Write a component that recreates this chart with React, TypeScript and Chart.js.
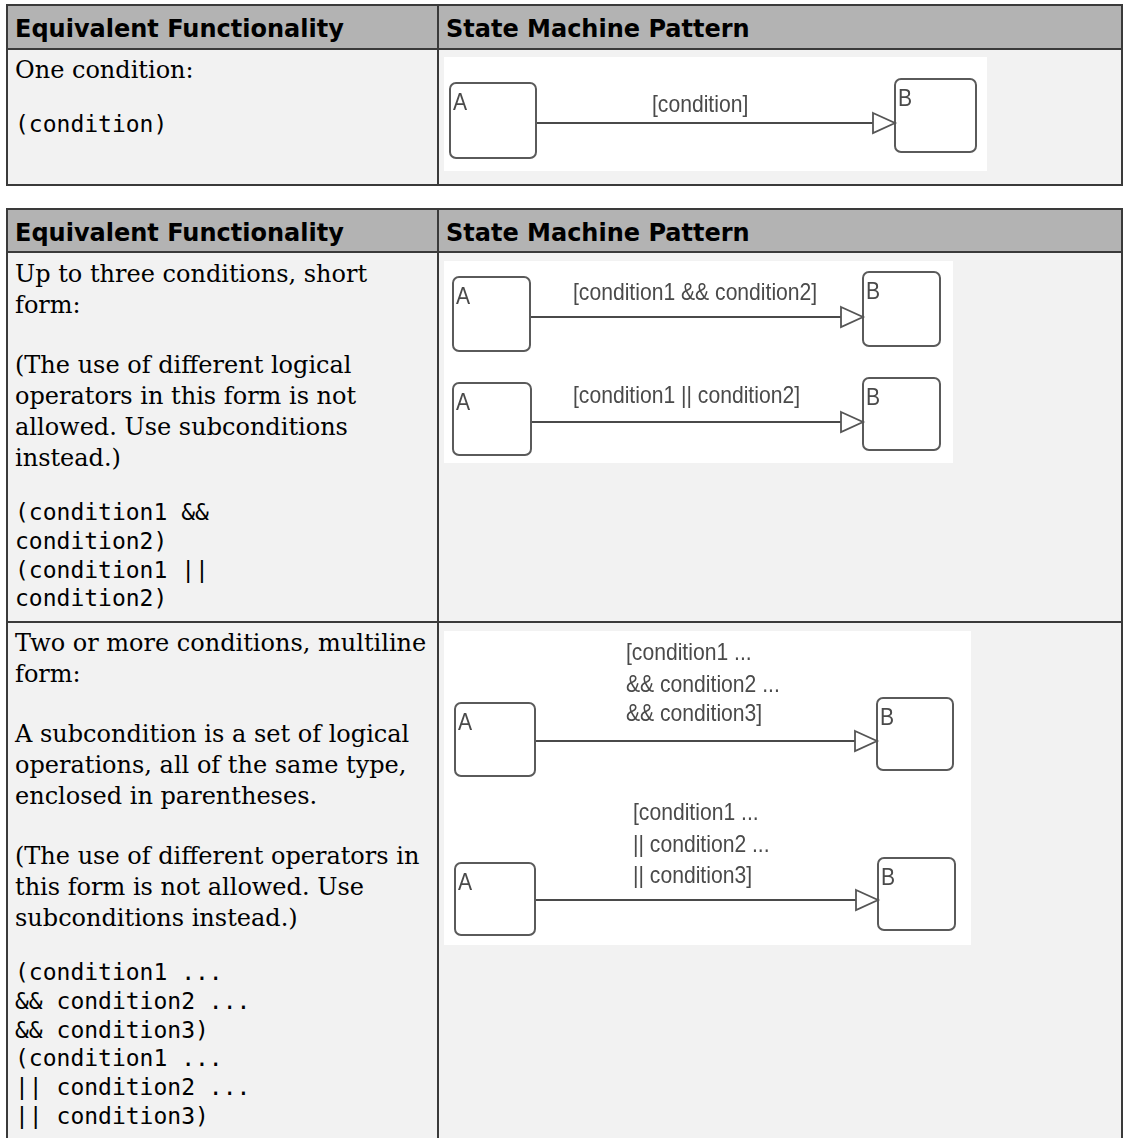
import React, { useEffect, useRef } from 'react';
import { Chart, registerables } from 'chart.js';

Chart.register(...registerables);

// ---------- table text ----------
const headerLabels = ['Equivalent Functionality', 'State Machine Pattern'];

const row1Paragraphs: string[][] = [['One condition:']];
const row1Code: string[] = ['(condition)'];

const row2Paragraphs: string[][] = [
  ['Up to three conditions, short', 'form:'],
  ['(The use of different logical', 'operators in this form is not', 'allowed. Use subconditions', 'instead.)'],
];
const row2Code: string[] = ['(condition1 &&', 'condition2)', '(condition1 ||', 'condition2)'];

const row3Paragraphs: string[][] = [
  ['Two or more conditions, multiline', 'form:'],
  ['A subcondition is a set of logical', 'operations, all of the same type,', 'enclosed in parentheses.'],
  ['(The use of different operators in', 'this form is not allowed. Use', 'subconditions instead.)'],
];
const row3Code: string[] = [
  '(condition1 ...',
  '&& condition2 ...',
  '&& condition3)',
  '(condition1 ...',
  '|| condition2 ...',
  '|| condition3)',
];

// ---------- diagram data (diagram units) ----------
type StateBox = [string, number, number, number, number]; // name, x0, y0, x1, y1
type Transition = [number, number, number]; // fromX, toX (arrow tip), y
type Label = [number, number, string]; // x, baseline y, text

const diagram1States: StateBox[] = [
  ['A', 6, 26, 92, 101],
  ['B', 451, 22, 532, 95],
];
const diagram1Transitions: Transition[] = [[92, 451, 66]];
const diagram1Labels: Label[] = [[208, 55, '[condition]']];

const diagram2States: StateBox[] = [
  ['A', 9, 16, 86, 90],
  ['B', 419, 11, 496, 85],
  ['A', 9, 122, 87, 194],
  ['B', 419, 117, 496, 189],
];
const diagram2Transitions: Transition[] = [
  [86, 419, 56],
  [87, 419, 161],
];
const diagram2Labels: Label[] = [
  [129, 39, '[condition1 && condition2]'],
  [129, 142, '[condition1 || condition2]'],
];

const diagram3States: StateBox[] = [
  ['A', 11, 72, 91, 145],
  ['B', 433, 67, 509, 139],
  ['A', 11, 232, 91, 304],
  ['B', 434, 227, 511, 299],
];
const diagram3Transitions: Transition[] = [
  [91, 433, 110],
  [91, 434, 269],
];
const diagram3Labels: Label[] = [
  [182, 29, '[condition1 ...'],
  [182, 61, '&& condition2 ...'],
  [182, 90, '&& condition3]'],
  [189, 189, '[condition1 ...'],
  [189, 221, '|| condition2 ...'],
  [189, 252, '|| condition3]'],
];

const ARROW_LEN = 22;
const ARROW_HALF = 10;

const stateMachinePlugin = {
  id: 'stateMachine',
  afterDatasetsDraw(chart: any, _args: any, opts: any) {
    const { ctx } = chart;
    const xs = chart.scales.x;
    const ys = chart.scales.y;
    const font = '24px "Liberation Sans", Arial, sans-serif';
    const drawText = (text: string, px: number, py: number) => {
      ctx.save();
      ctx.translate(px, py);
      ctx.scale(0.88, 1);
      ctx.font = font;
      ctx.fillStyle = '#4a4a4a';
      ctx.textBaseline = 'alphabetic';
      ctx.textAlign = 'left';
      ctx.fillText(text, 0, 0);
      ctx.restore();
    };
    ctx.save();
    // state boxes
    for (const [name, x0, y0, x1, y1] of opts.states as StateBox[]) {
      const px0 = xs.getPixelForValue(x0);
      const px1 = xs.getPixelForValue(x1);
      const py0 = ys.getPixelForValue(y0);
      const py1 = ys.getPixelForValue(y1);
      ctx.beginPath();
      ctx.roundRect(px0, py0, px1 - px0, py1 - py0, 6);
      ctx.fillStyle = '#ffffff';
      ctx.fill();
      ctx.lineWidth = 2;
      ctx.strokeStyle = '#5a5a5a';
      ctx.stroke();
      drawText(name, px0 + 3, py0 + 27);
    }
    // arrow heads
    for (const [, toX, ty] of opts.transitions as Transition[]) {
      const tip = xs.getPixelForValue(toX);
      const base = xs.getPixelForValue(toX - ARROW_LEN);
      const top = ys.getPixelForValue(ty - ARROW_HALF);
      const bot = ys.getPixelForValue(ty + ARROW_HALF);
      const mid = ys.getPixelForValue(ty);
      ctx.beginPath();
      ctx.moveTo(base, top);
      ctx.lineTo(tip, mid);
      ctx.lineTo(base, bot);
      ctx.closePath();
      ctx.fillStyle = '#ffffff';
      ctx.fill();
      ctx.lineWidth = 1.8;
      ctx.strokeStyle = '#555555';
      ctx.stroke();
    }
    // labels
    for (const [lx, ly, text] of opts.labels as Label[]) {
      drawText(text, xs.getPixelForValue(lx), ys.getPixelForValue(ly));
    }
    ctx.restore();
  },
};

function Diagram(props: {
  states: StateBox[];
  transitions: Transition[];
  labels: Label[];
  width: number;
  height: number;
  left: number;
  top: number;
}) {
  const ref = useRef<HTMLCanvasElement | null>(null);
  useEffect(() => {
    if (!ref.current) return;
    const chart = new Chart(ref.current, {
      type: 'scatter',
      data: {
        datasets: props.transitions.map(([fx, tx, ty]) => ({
          data: [
            { x: fx, y: ty },
            { x: tx - ARROW_LEN, y: ty },
          ],
          showLine: true,
          borderColor: '#4a4a4a',
          borderWidth: 2,
          pointRadius: 0,
          pointHoverRadius: 0,
        })),
      },
      options: {
        animation: false,
        responsive: false,
        devicePixelRatio: 1,
        events: [],
        layout: { padding: 0 },
        scales: {
          x: { type: 'linear', min: 0, max: props.width, display: false },
          y: { type: 'linear', min: 0, max: props.height, reverse: true, display: false },
        },
        plugins: {
          legend: { display: false },
          tooltip: { enabled: false },
          // @ts-ignore
          stateMachine: { states: props.states, transitions: props.transitions, labels: props.labels },
        },
      } as any,
      plugins: [stateMachinePlugin],
    });
    return () => chart.destroy();
  }, []);
  return (
    <canvas
      ref={ref}
      width={props.width}
      height={props.height}
      style={{ position: 'absolute', left: props.left, top: props.top, background: '#ffffff' }}
    />
  );
}

const BORDER = '#3a3a3a';
const HEADER_BG = '#b3b3b3';
const BODY_BG = '#f2f2f2';
const LEFT = 7;
const RIGHT = 1122;
const DIVIDER = 438;

function HLine({ y }: { y: number }) {
  return <div style={{ position: 'absolute', left: LEFT - 1, top: y - 1, width: RIGHT - LEFT + 2, height: 2, background: BORDER }} />;
}
function VLine({ x, y0, y1 }: { x: number; y0: number; y1: number }) {
  return <div style={{ position: 'absolute', left: x - 1, top: y0 - 1, width: 2, height: y1 - y0 + 2, background: BORDER }} />;
}

function TableFrame({ lines }: { lines: number[] }) {
  const top = lines[0];
  const bottom = lines[lines.length - 1];
  return (
    <>
      <div style={{ position: 'absolute', left: LEFT, top, width: RIGHT - LEFT, height: lines[1] - top, background: HEADER_BG }} />
      <div style={{ position: 'absolute', left: LEFT, top: lines[1], width: RIGHT - LEFT, height: bottom - lines[1], background: BODY_BG }} />
      {lines.map((y) => (
        <HLine key={y} y={y} />
      ))}
      <VLine x={LEFT} y0={top} y1={bottom} />
      <VLine x={RIGHT} y0={top} y1={bottom} />
      <VLine x={DIVIDER} y0={top} y1={bottom} />
      <div style={{ position: 'absolute', left: 15, top: top + 10, font: 'bold 24px "DejaVu Sans"', lineHeight: '28px', whiteSpace: 'nowrap', color: '#000' }}>
        {headerLabels[0]}
      </div>
      <div style={{ position: 'absolute', left: 446, top: top + 10, font: 'bold 24px "DejaVu Sans"', lineHeight: '28px', whiteSpace: 'nowrap', color: '#000' }}>
        {headerLabels[1]}
      </div>
    </>
  );
}

function CellText({ top, paragraphs, code }: { top: number; paragraphs: string[][]; code: string[] }) {
  return (
    <div style={{ position: 'absolute', left: 15, top, width: 420, color: '#000' }}>
      {paragraphs.map((p, i) => (
        <div key={i} style={{ marginTop: i ? 29 : 0, fontFamily: '"DejaVu Serif"', fontSize: 24, lineHeight: '31px', whiteSpace: 'nowrap' }}>
          {p.map((line, j) => (
            <div key={j}>{line}</div>
          ))}
        </div>
      ))}
      <div style={{ marginTop: 24, fontFamily: '"DejaVu Sans Mono"', fontSize: 23, lineHeight: '28.8px', whiteSpace: 'pre' }}>
        {code.map((line, j) => (
          <div key={j}>{line}</div>
        ))}
      </div>
    </div>
  );
}

export default function App() {
  return (
    <div style={{ position: 'fixed', left: 0, top: 0, width: 1123, height: 1138, overflow: 'hidden', background: '#ffffff' }}>
      <TableFrame lines={[5, 49, 185]} />
      <TableFrame lines={[209, 252, 622, 1160]} />
      <CellText top={55} paragraphs={row1Paragraphs} code={row1Code} />
      <CellText top={259} paragraphs={row2Paragraphs} code={row2Code} />
      <CellText top={628} paragraphs={row3Paragraphs} code={row3Code} />
      <Diagram states={diagram1States} transitions={diagram1Transitions} labels={diagram1Labels} width={543} height={114} left={444} top={57} />
      <Diagram states={diagram2States} transitions={diagram2Transitions} labels={diagram2Labels} width={509} height={202} left={444} top={261} />
      <Diagram states={diagram3States} transitions={diagram3Transitions} labels={diagram3Labels} width={527} height={314} left={444} top={631} />
    </div>
  );
}
